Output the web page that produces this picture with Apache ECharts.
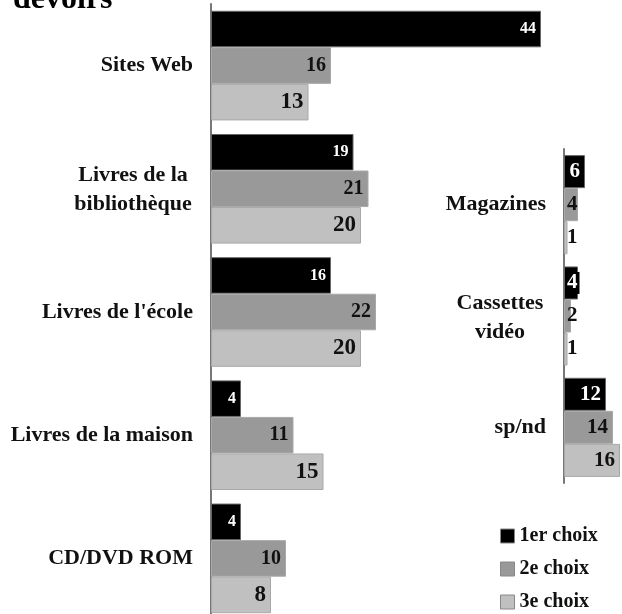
<!DOCTYPE html>
<html>
<head>
<meta charset="utf-8">
<script src="https://cdn.jsdelivr.net/npm/echarts@6/dist/echarts.min.js"></script>
<style>
  html, body { margin: 0; padding: 0; background: #fff; }
  #main { width: 622px; height: 614px; }
</style>
</head>
<body>
<div id="main"></div>
<script>
// ressources utilisées pour les devoirs (1er / 2e / 3e choix)
var leftCategories = ['Sites Web', 'Livres de la\nbibliothèque', "Livres de l'école", 'Livres de la maison', 'CD/DVD ROM']
var left1 = [44, 19, 16, 4, 4]
var left2 = [16, 21, 22, 11, 10]
var left3 = [13, 20, 20, 15, 8]

var rightCategories = ['Magazines', 'Cassettes\nvidéo', 'sp/nd']
var right1 = [6, 4, 12]
var right2 = [4, 2, 14]
var right3 = [1, 1, 16]

var seriesNames = ['1er choix', '2e choix', '3e choix']
var colors = ['#000000', '#999999', '#c0c0c0']

var FONT = 'Liberation Serif'

function catLabel (w) {
  return {
    fontFamily: FONT,
    fontWeight: 'bold',
    fontSize: 22,
    color: '#111',
    margin: 18,
    lineHeight: 28,
    formatter: function (v) {
      if (v.indexOf('\n') < 0) return v
      return v.split('\n').map(function (s) { return '{m|' + s + '}' }).join('\n')
    },
    rich: {
      m: { width: w, align: 'center', fontFamily: FONT, fontWeight: 'bold', fontSize: 22, lineHeight: 29, color: '#111', padding: [3, 0, 0, 0] }
    }
  }
}

function small (arr, limit, idx) {
  // petites barres : étiquette posée contre l'axe
  return arr.map(function (v) {
    if (v >= limit) return v
    var lab = { position: 'insideLeft', distance: 3 }
    if (idx === 0) {
      lab.backgroundColor = '#000'
      lab.padding = [1, 2, 0, 2]
      lab.distance = 1
    }
    return { value: v, label: lab }
  })
}

var labelStyles = [
  { color: '#fff', fontSize: 16 },
  { color: '#111', fontSize: 20 },
  { color: '#111', fontSize: 23 }
]

function barSeries (name, idx, axisIdx, data, right) {
  return {
    name: name,
    type: 'bar',
    xAxisIndex: axisIdx,
    yAxisIndex: axisIdx,
    data: data,
    barCategoryGap: '11%',
    barGap: '0%',
    itemStyle: { color: colors[idx], borderColor: idx === 0 ? '#666' : '#a8a8a8', borderWidth: 1 },
    label: {
      show: true,
      position: 'insideRight',
      distance: 5,
      fontFamily: FONT,
      fontWeight: 'bold',
      fontSize: right ? 21 : labelStyles[idx].fontSize,
      color: labelStyles[idx].color
    }
  }
}

var chart = echarts.init(document.getElementById('main'))
chart.setOption({
  animation: false,
  graphic: [{
    type: 'text',
    x: 13,
    y: 16,
    style: { text: 'devoirs', fontFamily: FONT, fontWeight: 'bold', fontSize: 32, fill: '#000', verticalAlign: 'bottom' }
  }],
  legend: {
    orient: 'vertical',
    left: 500,
    top: 526,
    padding: 0,
    itemWidth: 14,
    itemHeight: 14,
    itemGap: 13,
    icon: 'rect',
    data: seriesNames,
    itemStyle: { borderColor: '#888', borderWidth: 1 },
    textStyle: { fontFamily: FONT, fontWeight: 'bold', fontSize: 20, color: '#111' }
  },
  grid: [
    { left: 211, top: 4, width: 375, height: 616, outerBoundsMode: 'none' },
    { left: 564, top: 149, width: 56, height: 334, outerBoundsMode: 'none' }
  ],
  xAxis: [
    { gridIndex: 0, type: 'value', min: 0, max: 50, show: false },
    { gridIndex: 1, type: 'value', min: 0, max: 16, show: false }
  ],
  yAxis: [
    {
      gridIndex: 0, type: 'category', inverse: true, data: leftCategories,
      axisLine: { lineStyle: { color: '#777', width: 2 } },
      axisTick: { show: false },
      axisLabel: catLabel(120)
    },
    {
      gridIndex: 1, type: 'category', inverse: true, data: rightCategories,
      axisLine: { lineStyle: { color: '#777', width: 2 } },
      axisTick: { show: false },
      axisLabel: catLabel(92)
    }
  ],
  series: [
    barSeries(seriesNames[0], 0, 0, left1, false),
    barSeries(seriesNames[1], 1, 0, left2, false),
    barSeries(seriesNames[2], 2, 0, left3, false),
    barSeries(seriesNames[0], 0, 1, small(right1, 5, 0), true),
    barSeries(seriesNames[1], 1, 1, small(right2, 5, 1), true),
    barSeries(seriesNames[2], 2, 1, small(right3, 5, 2), true)
  ]
})
</script>
</body>
</html>
